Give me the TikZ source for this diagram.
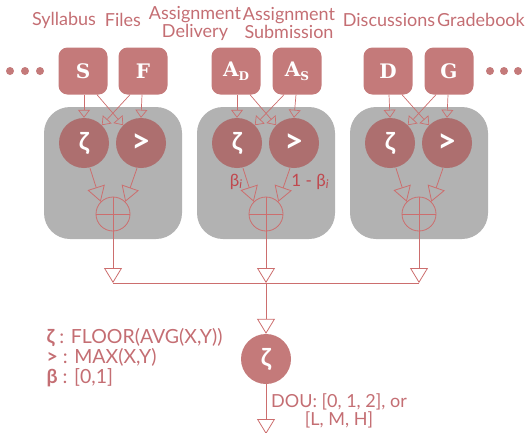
\documentclass[tikz,border=0pt]{standalone}
\usepackage{fontspec}
\setmainfont{Lato}
\newfontfamily\slab{DejaVu Serif}
\usetikzlibrary{arrows.meta}
\definecolor{rose}{RGB}{196,122,122}
\definecolor{rosedark}{RGB}{173,111,111}
\definecolor{panel}{RGB}{178,178,178}
\definecolor{wire}{RGB}{204,110,110}
\definecolor{txt}{RGB}{196,110,115}
\definecolor{wt}{RGB}{192,72,78}
\tikzset{
  src/.style={rounded corners=9pt, fill=rose, minimum width=49pt, minimum height=47pt,
    text=white, font=\slab\bfseries\fontsize{20}{20}\selectfont},
  op/.style={circle, fill=rosedark, minimum size=50pt, inner sep=0pt, text=white,
    font=\bfseries\fontsize{25}{25}\selectfont},
  maxop/.style={op, font=\bfseries\fontsize{33}{33}\selectfont},
  panelbox/.style={rounded corners=26pt, fill=panel, minimum width=138pt, minimum height=132pt},
  sum/.style={circle, draw=wire, line width=0.8pt, minimum size=34pt, inner sep=0pt},
  lbl/.style={text=txt, font=\fontsize{18}{18}\selectfont, align=center},
  small/.style={draw=wire, line width=0.7pt, -{Triangle[open, length=8pt, width=12pt]}},
  big/.style={draw=wire, line width=0.8pt, -{Triangle[open, length=15pt, width=18pt]}},
  dot/.style={circle, fill=rose, minimum size=8pt, inner sep=0pt},
  wlbl/.style={text=wt, font=\fontsize{17}{17}\selectfont}
}
\begin{document}
\begin{tikzpicture}[x=1pt,y=-1pt]
\useasboundingbox (0,0) rectangle (527,432);

% column labels
\node[lbl] (l1) at (64,20) {Syllabus};
\node[lbl] (l2) at (123,20) {Files};
\node[lbl] (l3) at (195,23) {Assignment\\Delivery};
\node[lbl] (l4) at (289,23) {Assignment\\Submission};
\node[lbl] (l5) at (389,20) {Discussions};
\node[lbl] (l6) at (481,20) {Gradebook};

% ellipses at both ends
\foreach \x [count=\k] in {10,25,40} \node[dot] (dl\k) at (\x,71) {};
\foreach \x [count=\k] in {490,504,518} \node[dot] (dr\k) at (\x,71) {};

% three panels
\node[panelbox] (p1) at (113,173) {};
\node[panelbox] (p2) at (266,173) {};
\node[panelbox] (p3) at (419,173) {};

% source tiles
\node[src] (s1) at (83,71) {S};
\node[src] (s2) at (143,71) {F};
\node[src] (s3) at (236,71) {A\raisebox{-4pt}{\fontsize{12}{12}\selectfont D}};
\node[src] (s4) at (297,71) {A\raisebox{-4pt}{\fontsize{12}{12}\selectfont S}};
\node[src] (s5) at (388,71) {D};
\node[src] (s6) at (449,71) {G};

% operators
\node[op] (z1) at (84,143) {ζ};
\node[maxop] (m1) at (141,143) {>};
\node[op] (z2) at (237,143) {ζ};
\node[maxop] (m2) at (294,143) {>};
\node[op] (z3) at (390,143) {ζ};
\node[maxop] (m3) at (447,143) {>};

% weighted sums
\foreach \i/\x in {1/113,2/266,3/419}{
  \node[sum] (o\i) at (\x,214) {};
  \draw[wire, line width=0.8pt] (o\i.north) -- (o\i.south) (o\i.west) -- (o\i.east);
}

% tiles into operators
\foreach \s/\t/\z/\m in {1/2/1/1, 3/4/2/2, 5/6/3/3}{
  \draw[small] ([xshift=1pt]s\s.south) -- (z\z.north);
  \draw[small] ([xshift=14pt]s\s.south) -- (m\m.north west);
  \draw[small] ([xshift=-13pt]s\t.south) -- (z\z.north east);
  \draw[small] ([xshift=-1pt]s\t.south) -- (m\m.north);
}

% operators into sums
\foreach \i in {1,2,3}{
  \draw[big] (z\i.south) ++(6pt,0) -- (o\i.north west);
  \draw[big] (m\i.south) ++(-4pt,0) -- (o\i.north east);
}

\node[wlbl] (b1) at (236,182) {β\raisebox{-2pt}{\itshape\fontsize{12}{12}\selectfont i}};
\node[wlbl] (b2) at (310,182) {1 - β\raisebox{-2pt}{\itshape\fontsize{12}{12}\selectfont i}};

% merge bus
\coordinate (j1) at (o1.south |- 0,283);
\coordinate (j2) at (o2.south |- 0,283);
\coordinate (j3) at (o3.south |- 0,283);
\foreach \i in {1,2,3} \draw[big] (o\i.south) -- (j\i);
\draw[wire, line width=0.9pt] (j1) -- (j3);

% final operator
\node[op, fill=rose] (zf) at (j2 |- 0,359) {ζ};
\draw[big] (j2) -- (zf.north);
\coordinate (out) at (j2 |- 0,434);
\draw[big] (zf.south) -- (out);

% legend
\node[lbl, align=left, anchor=west, font=\fontsize{19.5}{20}\selectfont] (leg) at (43,358) {{\bfseries ζ} : FLOOR(AVG(X,Y))\\{\bfseries >} : MAX(X,Y)\\{\bfseries β} : [0,1]};
\node[lbl] (dou) at (339,411) {DOU: [0, 1, 2], or\\{}[L, M, H]};
\end{tikzpicture}
\end{document}
